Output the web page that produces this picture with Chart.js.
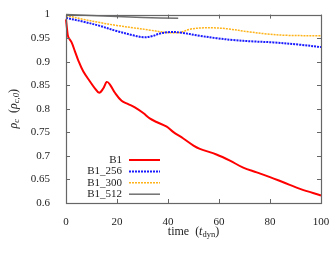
<!DOCTYPE html>
<html>
<head>
<meta charset="utf-8">
<script src="https://cdn.jsdelivr.net/npm/chart.js@4"></script>
<style>
    html, body { margin: 0; padding: 0; background: #fff; }
    #wrap { width: 336px; height: 256px; }
</style>
</head>
<body>
<div id="wrap"><canvas id="rho-chart" width="336" height="256"></canvas></div>
<script>
// Dati (tempo in t_dyn, densita' centrale normalizzata)
const timeB1 = [0, 0.5, 0.9, 2.2, 3.5, 4.8, 6.8, 9.4, 11.4, 13, 14.6, 16, 17.3, 19.2, 21.8, 24.4, 27, 30.3, 33, 35.5, 39.5, 42, 46, 50, 52.5, 59, 64.3, 69.5, 74.8, 80, 85.2, 91.8, 100];
const rhoB1 = [0.99, 0.965, 0.952, 0.941, 0.922, 0.903, 0.879, 0.858, 0.843, 0.834, 0.843, 0.857, 0.851, 0.834, 0.817, 0.81, 0.803, 0.791, 0.779, 0.772, 0.762, 0.751, 0.737, 0.722, 0.715, 0.703, 0.69, 0.675, 0.665, 0.655, 0.644, 0.63, 0.616];

const timeB1_256 = [0, 6.8, 13.3, 19.9, 26.4, 30.3, 33.6, 36.9, 40.8, 44.7, 52.5, 59, 65.6, 73.5, 81.3, 91.8, 100];
const rhoB1_256 = [0.993, 0.985, 0.976, 0.965, 0.956, 0.952, 0.954, 0.96, 0.963, 0.962, 0.955, 0.95, 0.946, 0.943, 0.941, 0.936, 0.931];

const timeB1_300 = [0, 6.8, 13.3, 19.9, 26.4, 33, 39.5, 44.7, 48.6, 53.9, 57.8, 63, 72.2, 78.7, 86.5, 100];
const rhoB1_300 = [0.998, 0.99, 0.983, 0.977, 0.972, 0.967, 0.962, 0.962, 0.969, 0.972, 0.972, 0.97, 0.963, 0.959, 0.956, 0.955];

const timeB1_512 = [0, 10, 20, 30, 44];
const rhoB1_512 = [1.0, 0.998, 0.996, 0.994, 0.992];

const seriesLabels = ['B1', 'B1_256', 'B1_300', 'B1_512'];
const xTicks = [0, 20, 40, 60, 80, 100];
const yTicks = [0.6, 0.65, 0.7, 0.75, 0.8, 0.85, 0.9, 0.95, 1];

const SERIF = '"Liberation Serif", "DejaVu Serif", serif';

// Stili delle serie (colore, spessore, tratteggio)
const seriesStyles = [
    { color: '#ff0000', width: 2, dash: [] },
    { color: '#1a1aff', width: 2, dash: [2, 1] },
    { color: '#ffb319', width: 1.5, dash: [2, 1] },
    { color: '#707070', width: 1.5, dash: [] }
];

function toPoints(times, values) {
    return times.map((t, i) => ({ x: t, y: values[i] }));
}

function makeDataset(idx, times, values) {
    const s = seriesStyles[idx];
    return {
        label: seriesLabels[idx],
        data: toPoints(times, values),
        borderColor: s.color,
        borderWidth: s.width,
        borderDash: s.dash,
        pointRadius: 0,
        tension: 0.35,
        fill: false,
        clip: 4
    };
}

// Cornice con tacche interne su tutti i lati (stile gnuplot)
const framePlugin = {
    id: 'frame',
    afterDatasetsDraw(chart) {
        const { ctx, chartArea: a, scales } = chart;
        ctx.save();
        ctx.strokeStyle = '#666';
        ctx.lineWidth = 1;
        ctx.beginPath();
        xTicks.forEach(v => {
            const x = Math.round(scales.x.getPixelForValue(v)) + 0.5;
            ctx.moveTo(x, a.bottom); ctx.lineTo(x, a.bottom - 4);
            ctx.moveTo(x, a.top); ctx.lineTo(x, a.top + 4);
        });
        yTicks.forEach(v => {
            const y = Math.round(scales.y.getPixelForValue(v)) + 0.5;
            ctx.moveTo(a.left, y); ctx.lineTo(a.left + 4, y);
            ctx.moveTo(a.right, y); ctx.lineTo(a.right - 4, y);
        });
        ctx.stroke();
        ctx.lineWidth = 1.2;
        ctx.strokeRect(Math.round(a.left) + 0.5, Math.round(a.top) + 0.5,
            Math.round(a.right - a.left), Math.round(a.bottom - a.top));
        ctx.restore();
    }
};

// Legenda: testo a destra allineato, poi il campione di linea
const legendPlugin = {
    id: 'sideLegend',
    afterDraw(chart) {
        const ctx = chart.ctx;
        ctx.save();
        ctx.font = '11px ' + SERIF;
        ctx.fillStyle = '#222';
        ctx.textAlign = 'right';
        ctx.textBaseline = 'middle';
        seriesLabels.forEach((label, i) => {
            const y = 160 + i * 11.4;
            ctx.fillText(label, 122, y);
            const s = seriesStyles[i];
            ctx.strokeStyle = s.color;
            ctx.lineWidth = s.width;
            ctx.setLineDash(s.dash);
            ctx.beginPath();
            ctx.moveTo(129, y);
            ctx.lineTo(160, y);
            ctx.stroke();
            ctx.setLineDash([]);
        });
        ctx.restore();
    }
};

// Disegna una sequenza di pezzi di testo con pedici
function drawRich(ctx, parts, cx, baseline) {
    const widths = parts.map(p => {
        ctx.font = p.font;
        return ctx.measureText(p.text).width;
    });
    const total = widths.reduce((s, w) => s + w, 0);
    let x = cx - total / 2;
    parts.forEach((p, i) => {
        ctx.font = p.font;
        ctx.fillText(p.text, x, baseline + (p.dy || 0));
        x += widths[i];
    });
}

// Titoli degli assi
const axisTitlePlugin = {
    id: 'axisTitles',
    afterDraw(chart) {
        const ctx = chart.ctx;
        const a = chart.chartArea;
        const normal = '12px ' + SERIF;
        const italic = 'italic 12px ' + SERIF;
        const sub = '8.5px ' + SERIF;
        const subIt = 'italic 8.5px ' + SERIF;
        ctx.save();
        ctx.fillStyle = '#222';
        ctx.textAlign = 'left';
        ctx.textBaseline = 'alphabetic';
        drawRich(ctx, [
            { text: 'time  (', font: normal },
            { text: 't', font: italic },
            { text: 'dyn', font: sub, dy: 2 },
            { text: ')', font: normal }
        ], (a.left + a.right) / 2, 235);

        ctx.translate(17, (a.top + a.bottom) / 2);
        ctx.rotate(-Math.PI / 2);
        drawRich(ctx, [
            { text: 'ρ', font: italic },
            { text: 'c', font: subIt, dy: 2 },
            { text: '  (', font: normal },
            { text: 'ρ', font: italic },
            { text: 'c,0', font: subIt, dy: 2 },
            { text: ')', font: normal }
        ], 0, 0);
        ctx.restore();
    }
};

function formatTick(v) {
    return String(Number(v.toFixed(2)));
}

const ctx = document.getElementById('rho-chart').getContext('2d');
new Chart(ctx, {
    type: 'line',
    data: {
        datasets: [
            makeDataset(0, timeB1, rhoB1),
            makeDataset(1, timeB1_256, rhoB1_256),
            makeDataset(2, timeB1_300, rhoB1_300),
            makeDataset(3, timeB1_512, rhoB1_512)
        ]
    },
    options: {
        responsive: false,
        animation: false,
        devicePixelRatio: 1,
        layout: { padding: { top: 10, right: 15, left: 0, bottom: 0 } },
        plugins: {
            legend: { display: false },
            tooltip: { enabled: false }
        },
        scales: {
            x: {
                type: 'linear',
                min: 0,
                max: 100,
                grid: { display: false },
                border: { display: false },
                afterBuildTicks: scale => { scale.ticks = xTicks.map(v => ({ value: v })); },
                afterFit: scale => { scale.height = 53; },
                ticks: {
                    padding: 5,
                    maxRotation: 0,
                    color: '#222',
                    font: { family: SERIF, size: 11 }
                }
            },
            y: {
                min: 0.6,
                max: 1,
                grid: { display: false },
                border: { display: false },
                afterBuildTicks: scale => { scale.ticks = yTicks.map(v => ({ value: v })); },
                afterFit: scale => { scale.width = 66; },
                ticks: {
                    padding: 8,
                    color: '#222',
                    font: { family: SERIF, size: 11 },
                    callback: v => formatTick(v)
                }
            }
        }
    },
    plugins: [framePlugin, legendPlugin, axisTitlePlugin]
});
</script>
</body>
</html>
